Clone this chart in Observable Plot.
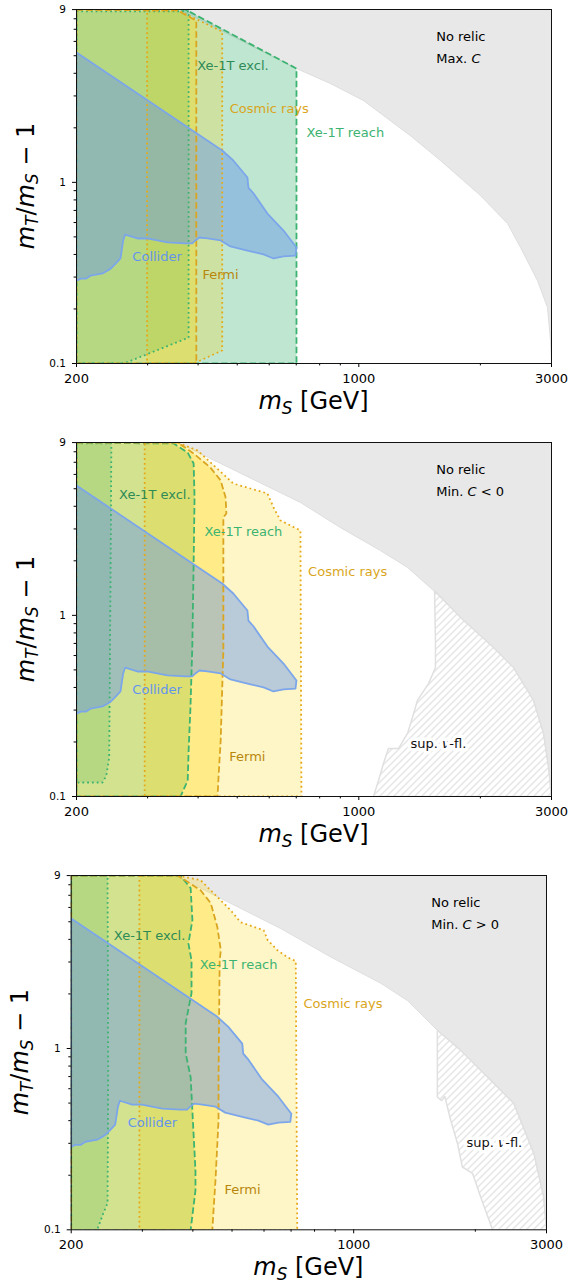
<!DOCTYPE html>
<html>
<head>
<meta charset="utf-8">
<script src="https://cdn.jsdelivr.net/npm/d3@7"></script>
<script src="https://cdn.jsdelivr.net/npm/@observablehq/plot@0.6"></script>
<style>
  html, body { margin: 0; padding: 0; background: #fff; }
  #chart { position: relative; width: 570px; height: 1287px; font-family: "DejaVu Sans", sans-serif; }
  #chart > svg { position: absolute; left: 0; }
</style>
</head>
<body>
<svg width="0" height="0" style="position:absolute">
  <defs>
    <pattern id="hatch" patternUnits="userSpaceOnUse" width="7" height="7">
      <path d="M-1,1 l2,-2 M0,7 l7,-7 M6,8 l2,-2" stroke="#cacaca" stroke-width="1"/>
    </pattern>
  </defs>
</svg>
<div id="chart"></div>
<script>
// ---------------- ticks ----------------
const xMajor = [200, 1000, 3000];
const xMinor = [300, 400, 500, 600, 700, 800, 900, 2000];
const yMajor = [0.1, 1, 8.99];
const yMajorLabels = ["0.1", "1", "9"];
const yMinor = [0.2, 0.3, 0.4, 0.5, 0.6, 0.7, 0.8, 0.9, 2, 3, 4, 5, 6, 7, 8];

// ---------------- collider (same in all panels) ----------------
const collider = [[200,5.21],[459,1.50],[489,1.32],[530,1.063],[533,0.936],[549,0.868],[594,0.673],[651,0.542],[701,0.437],[697,0.394],[651,0.39],[615,0.38],[581,0.40],[530,0.42],[481,0.443],[455,0.478],[422,0.49],[403,0.496],[394,0.478],[387,0.46],[372,0.46],[336,0.466],[299,0.49],[283,0.49],[264,0.515],[261,0.478],[257,0.38],[250,0.356],[243,0.334],[239,0.326],[232,0.314],[217,0.306],[211,0.294],[205,0.294],[200,0.287]];

// ---------------- panel 1 : Max. C ----------------
const p1Gray = [[360,9],[701,4.25],[851,3.51],[1027,2.83],[1342,1.81],[1593,1.32],[2001,0.846],[2334,0.593],[2514,0.437],[2770,0.287],[2932,0.204],[2983,0.134],[3000,0.1],[3000,9]];
const p1Reach = [[200,9],[372,9],[701,4.25],[701,0.1],[200,0.1]];
const p1Excl = [[200,8.8],[379,8.8],[379,0.139],[262,0.1],[200,0.1]];
const p1Fermi = [[200,8.95],[356,8.9],[396,7.8],[396,0.1],[200,0.1]];
const p1Cosmic = [[299,8.9],[356,8.9],[459,6.8],[459,0.118],[390,0.1],[299,0.1]];
const p1Labels = [
  {x:1555, y:6.38, text:"No relic", kind:"relic"},
  {x:1555, y:4.78, text:"Max. *C*", kind:"relic"},
  {x:398, y:4.42, text:"Xe-1T excl.", kind:"excl"},
  {x:479, y:2.55, text:"Cosmic rays", kind:"cosmic"},
  {x:742, y:1.88, text:"Xe-1T reach", kind:"reach"},
  {x:275, y:0.386, text:"Collider", kind:"collider"},
  {x:410, y:0.309, text:"Fermi", kind:"fermi"}
];

// ---------------- panel 2 : Min. C < 0 ----------------
const p2Gray = [[356,9],[717,4.20],[901,3.05],[1131,2.28],[1320,1.84],[1531,1.37],[1786,0.973],[2155,0.665],[2416,0.515],[2708,0.339],[2866,0.223],[2950,0.145],[3000,0.1],[3000,9]];
const p2Hatch = [[1540,1.37],[1548,0.726],[1548,0.515],[1488,0.42],[1397,0.339],[1358,0.273],[1320,0.223],[1254,0.184],[1184,0.184],[1151,0.152],[1119,0.1226],[1087,0.1],[3000,0.1],[2950,0.145],[2866,0.223],[2708,0.339],[2416,0.515],[2155,0.665],[1786,0.973]];
const p2Reach = [[200,8.95],[348,8.9],[377,7.92],[390,6.89],[392,4.47],[390,1.93],[387,0.665],[383,0.31],[379,0.179],[377,0.1226],[362,0.1],[200,0.1]];
const p2Excl = [[200,8.9],[244,8.9],[243,2.0],[241,0.164],[237,0.13],[232,0.1195],[200,0.1195]];
const p2Fermi = [[200,9],[356,9],[390,7.82],[429,6.55],[455,5.55],[468,4.47],[470,3.65],[462,3.47],[462,0.64],[455,0.204],[449,0.1226],[447,0.1],[200,0.1]];
const p2Cosmic = [[295,9],[356,9],[399,8.13],[489,5.34],[594,4.71],[615,3.94],[640,3.34],[678,3.13],[717,2.94],[721,0.1],[295,0.1]];
const p2Labels = [
  {x:1555, y:6.36, text:"No relic", kind:"relic"},
  {x:1555, y:4.78, text:"Min. *C* < 0", kind:"relic"},
  {x:255, y:4.65, text:"Xe-1T excl.", kind:"excl"},
  {x:415, y:2.88, text:"Xe-1T reach", kind:"reach"},
  {x:749, y:1.75, text:"Cosmic rays", kind:"cosmic"},
  {x:275, y:0.387, text:"Collider", kind:"collider"},
  {x:478, y:0.165, text:"Fermi", kind:"fermi"},
  {x:1343, y:0.195, text:"sup. *ν*-fl.", kind:"sup"}
];

// ---------------- panel 3 : Min. C > 0 ----------------
const p3Gray = [[362,9],[660,4.59],[877,3.2],[1167,2.29],[1358,1.84],[1611,1.26],[1841,0.976],[2143,0.696],[2490,0.498],[2791,0.264],[2953,0.151],[3000,0.1],[3000,9]];
const p3Hatch = [[1611,1.26],[1611,0.696],[1611,0.54],[1650,0.515],[1680,0.545],[1739,0.401],[1806,0.30],[1858,0.222],[1968,0.205],[2063,0.151],[2206,0.1],[3000,0.1],[2953,0.151],[2791,0.264],[2490,0.498],[2143,0.696],[1841,0.976]];
const p3Reach = [[200,8.95],[373,8.95],[395,7.66],[399,5.1],[390,3.8],[397,3.06],[397,2.02],[384,1.38],[384,0.94],[395,0.694],[406,0.212],[406,0.165],[395,0.1],[200,0.1]];
const p3Excl = [[200,8.95],[246,8.95],[247,0.757],[246,0.14],[240,0.123],[232,0.1],[200,0.1]];
const p3Fermi = [[200,9],[367,9],[418,7.46],[443,6.33],[460,4.66],[469,3.48],[466,3.06],[463,0.694],[463,0.401],[455,0.187],[450,0.128],[447,0.1],[200,0.1]];
const p3Cosmic = [[295,9],[367,9],[418,8.48],[496,5.79],[525,4.97],[599,4.49],[613,3.95],[648,3.48],[687,3.18],[719,3.03],[725,0.1],[295,0.1]];
const p3Labels = [
  {x:1556, y:6.38, text:"No relic", kind:"relic"},
  {x:1556, y:4.83, text:"Min. *C* > 0", kind:"relic"},
  {x:255, y:4.16, text:"Xe-1T excl.", kind:"excl"},
  {x:416, y:2.88, text:"Xe-1T reach", kind:"reach"},
  {x:751, y:1.77, text:"Cosmic rays", kind:"cosmic"},
  {x:276, y:0.39, text:"Collider", kind:"collider"},
  {x:479, y:0.167, text:"Fermi", kind:"fermi"},
  {x:1901, y:0.30, text:"sup. *ν*-fl.", kind:"sup"}
];

const xLabelParts = [{t:"m", i:true}, {t:"S", i:true, sub:true}, {t:" [GeV]"}];
const yLabelParts = [{t:"m", i:true}, {t:"T", i:true, sub:true}, {t:"/"}, {t:"m", i:true}, {t:"S", i:true, sub:true}, {t:" \u2212 1"}];

// ---------------- styles ----------------
const labelColor = {relic:"#000", excl:"#2e8b57", reach:"#3cb371", cosmic:"#daa520", fermi:"#b8860b", collider:"#6495ed", sup:"#111"};
const FONT = "DejaVu Sans";
const yTickRows = yMajor.map((v, i) => ({v, label: yMajorLabels[i]}));

const panels = [
  {gray:p1Gray, hatch:null, reach:p1Reach, excl:p1Excl, fermi:p1Fermi, cosmic:p1Cosmic, labels:p1Labels,
   top:0, height:433, mt:9, mb:70, ml:76, mr:19},
  {gray:p2Gray, hatch:p2Hatch, reach:p2Reach, excl:p2Excl, fermi:p2Fermi, cosmic:p2Cosmic, labels:p2Labels,
   top:433, height:433, mt:9, mb:70, ml:76, mr:19},
  {gray:p3Gray, hatch:p3Hatch, reach:p3Reach, excl:p3Excl, fermi:p3Fermi, cosmic:p3Cosmic, labels:p3Labels,
   top:866, height:421, mt:9, mb:57.7, ml:70.7, mr:24}
];

const X = d => d[0], Y = d => d[1];
const closed = pts => pts.concat([pts[0]]);
const fillMark = (pts, fill, op) => Plot.line(closed(pts), {x:X, y:Y, fill, fillOpacity:op, stroke:"none", clip:true});
const edgeMark = (pts, stroke, dash, w) => Plot.line(closed(pts), {x:X, y:Y, stroke, strokeWidth:w, strokeDasharray:dash, strokeLinecap:"butt", strokeLinejoin:"miter", clip:true});

const DASH = "6.5,3", DOT = "1.8,3";

function mathText(sel, parts, subSize, shiftPx) {
  let shift = 0;
  parts.forEach(p => {
    const ts = sel.append("tspan").text(p.t);
    if (p.i) ts.attr("font-style", "italic");
    if (p.sub) {
      ts.attr("font-size", subSize).attr("dy", shiftPx - shift);
      shift = shiftPx;
    } else if (shift) {
      ts.attr("dy", -shift);
      shift = 0;
    }
  });
}

const chart = document.getElementById("chart");

panels.forEach(pn => {
  const marks = [
    fillMark(pn.gray, "#e8e8e8", 1),
    edgeMark(pn.gray, "#dedede", null, 1)
  ];
  if (pn.hatch) {
    marks.push(fillMark(pn.hatch, "url(#hatch)", 1));
    marks.push(edgeMark(pn.hatch, "#e0e0e0", null, 1.5));
  }
  marks.push(
    fillMark(pn.reach, "#3cb371", 0.33),
    fillMark(pn.fermi, "#ffd700", 0.31),
    fillMark(pn.cosmic, "#ffd700", 0.22),
    fillMark(pn.excl, "#46b450", 0.2),
    fillMark(collider, "#6495ed", 0.45),
    edgeMark(pn.reach, "#3cb371", DASH, 1.8),
    edgeMark(pn.excl, "#3cb371", DOT, 1.8),
    edgeMark(pn.fermi, "#daa520", DASH, 1.8),
    edgeMark(pn.cosmic, "#e6a817", DOT, 1.8),
    Plot.line(closed(collider), {x:X, y:Y, stroke:"#7ca6ea", strokeWidth:1.8, clip:true})
  );
  pn.labels.forEach(l => {
    const opts = {x:"x", y:"y", text:"text", fill:labelColor[l.kind], textAnchor:"start", fontSize:13, fontFamily:FONT};
    if (l.kind === "sup") Object.assign(opts, {stroke:"white", strokeWidth:7, paintOrder:"stroke"});
    marks.push(Plot.text([l], opts));
  });
  marks.push(
    Plot.axisX({ticks:xMajor, tickSize:4, tickPadding:6, tickFormat:d => String(d), fontSize:13, label:null}),
    Plot.axisX({ticks:xMinor, tickSize:2.4, tickFormat:() => "", label:null}),
    Plot.axisY({ticks:yMajor, tickSize:4, tickFormat:() => "", label:null}),
    Plot.axisY({ticks:yMinor, tickSize:2.4, tickFormat:() => "", label:null}),
    Plot.text(yTickRows, {y:"v", text:"label", frameAnchor:"left", textAnchor:"end", dx:-10.5, fontSize:10.5, fill:"#000"}),
    Plot.frame({stroke:"#111", strokeWidth:1})
  );

  const plot = Plot.plot({
    width: 570,
    height: pn.height,
    marginTop: pn.mt, marginBottom: pn.mb, marginLeft: pn.ml, marginRight: pn.mr,
    style: {fontFamily: FONT, fontSize: "13px", background: "transparent", overflow: "visible"},
    x: {type:"log", domain:[200, 3000]},
    y: {type:"log", domain:[0.1, 9]},
    marks
  });
  plot.style.top = pn.top + "px";

  const svg = d3.select(plot);
  svg.selectAll("text").each(function() {
    const s = this.textContent;
    if (s && s.includes("*") && this.childElementCount === 0) {
      const parts = s.split("*");
      const t = d3.select(this);
      t.text(null);
      parts.forEach((p, i) => {
        if (!p) return;
        const ts = t.append("tspan").text(p);
        if (i % 2) ts.attr("font-style", "italic");
      });
    }
  });

  const frameBottom = pn.height - pn.mb;
  const frameCx = (pn.ml + 570 - pn.mr) / 2;
  const frameCy = (pn.mt + frameBottom) / 2;

  const xl = svg.append("text")
    .attr("x", frameCx).attr("y", frameBottom + 46)
    .attr("text-anchor", "middle").attr("font-size", 24).attr("font-family", FONT).attr("fill", "#000");
  mathText(xl, xLabelParts, 16.8, 4.5);

  const yl = svg.append("text")
    .attr("transform", `translate(${pn.ml - 42.5},${frameCy}) rotate(-90)`)
    .attr("text-anchor", "middle").attr("font-size", 24).attr("font-family", FONT).attr("fill", "#000");
  mathText(yl, yLabelParts, 16.8, 4.5);

  chart.appendChild(plot);
});
</script>
</body>
</html>
